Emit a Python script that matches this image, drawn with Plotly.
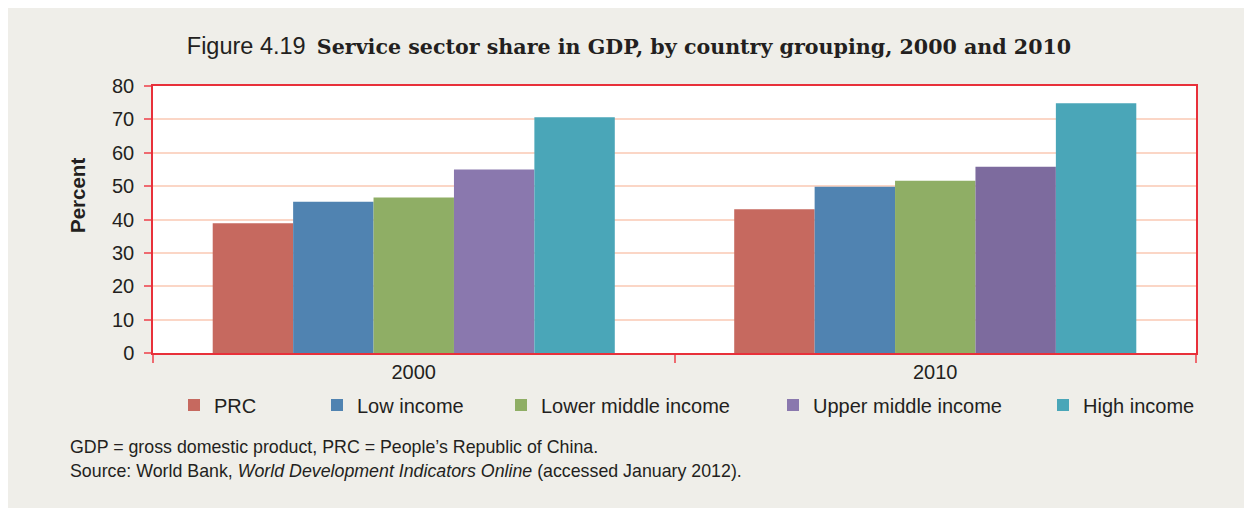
import plotly.graph_objects as go

years = ["2000", "2010"]
series = ["PRC", "Low income", "Lower middle income", "Upper middle income", "High income"]
values = {
    "PRC": [38.9, 43.1],
    "Low income": [45.3, 49.8],
    "Lower middle income": [46.6, 51.6],
    "Upper middle income": [55.0, 55.8],
    "High income": [70.6, 74.8],
}
bar_colors = {
    "PRC": ["#c6695f", "#c6695f"],
    "Low income": ["#5083b1", "#5083b1"],
    "Lower middle income": ["#8fae65", "#8fae65"],
    "Upper middle income": ["#8a78ae", "#7d6b9e"],
    "High income": ["#4aa6b8", "#4aa6b8"],
}
y_ticks = [0, 10, 20, 30, 40, 50, 60, 70, 80]

# geometry: page pixel coords (page has an 8px body margin)
OFF = 8
W, H = 1236, 500
L, R, T, B = 153 - OFF, 1196 - OFF, 86 - OFF, 353 - OFF
PW, PH = R - L, B - T

def px(x_page):
    return (x_page - OFF - L) / PW

def py(y_page):
    return (B - (y_page - OFF)) / PH

legend_text_x = [214, 357, 541, 813, 1083]
FONT = "Liberation Sans, Arial, sans-serif"
TXT = "#231f20"

fig = go.Figure()
for i, s in enumerate(series):
    lg = "legend" if i == 0 else f"legend{i+1}"
    fig.add_trace(go.Bar(
        x=years, y=values[s], name=s,
        marker=dict(color=bar_colors[s], line=dict(width=0)),
        legend=lg,
    ))

layout_legends = {}
for i, s in enumerate(series):
    key = "legend" if i == 0 else f"legend{i+1}"
    layout_legends[key] = dict(
        x=px(legend_text_x[i] - 40), y=py(405), xanchor="left", yanchor="middle",
        xref="paper", yref="paper",
        bgcolor="rgba(0,0,0,0)", borderwidth=0,
        font=dict(family=FONT, size=20, color=TXT),
        orientation="h",
    )

fig.update_layout(
    width=W, height=H,
    margin=dict(l=L, r=W - R, t=T, b=H - B, pad=0),
    paper_bgcolor="#efeee9", plot_bgcolor="white",
    barmode="group", bargap=0.229, bargroupgap=0,
    showlegend=True,
    font=dict(family=FONT, color=TXT),
    title=dict(
        text="<span style='font-family:Liberation Sans;font-size:23.5px'>Figure 4.19</span>  "
             "<b><span style='font-family:DejaVu Serif;font-size:20.6px'>Service sector share in GDP, by country grouping, 2000 and 2010</span></b>",
        x=(629 - OFF) / W, xref="container", xanchor="center",
        y=1 - (47 - OFF) / H, yref="container", yanchor="middle",
        font=dict(size=20, color=TXT),
    ),
    xaxis=dict(
        showline=True, linecolor="#e8303a", linewidth=1.5, mirror=True,
        ticks="outside", tickson="boundaries", ticklen=8, tickcolor="#ee6a70", tickwidth=1.5,
        showgrid=False,
        tickfont=dict(family=FONT, size=20, color=TXT),
    ),
    yaxis=dict(
        range=[0, 80], tickvals=y_ticks,
        showline=True, linecolor="#e8303a", linewidth=1.5, mirror=True,
        ticks="outside", ticklen=7, tickcolor="#ee6a70", tickwidth=1.5,
        ticklabelstandoff=6,
        showgrid=True, gridcolor="#fbd6c6", gridwidth=1.5,
        zeroline=False,
        tickfont=dict(family=FONT, size=20, color=TXT),
    ),
    annotations=[
        dict(text="<b>Percent</b>", textangle=-90, xref="paper", yref="paper",
             x=px(77), y=py(196), xanchor="center", yanchor="middle",
             showarrow=False, font=dict(family=FONT, size=20.5, color=TXT)),
        dict(text="GDP = gross domestic product, PRC = People\u2019s Republic of China.",
             xref="paper", yref="paper", x=px(68), y=py(447),
             xanchor="left", yanchor="middle", showarrow=False,
             font=dict(family=FONT, size=17.8, color=TXT)),
        dict(text="Source: World Bank, <i>World Development Indicators Online</i> (accessed January 2012).",
             xref="paper", yref="paper", x=px(68), y=py(471),
             xanchor="left", yanchor="middle", showarrow=False,
             font=dict(family=FONT, size=17.8, color=TXT)),
    ],
    **layout_legends,
)

fig.write_html("out.html")
